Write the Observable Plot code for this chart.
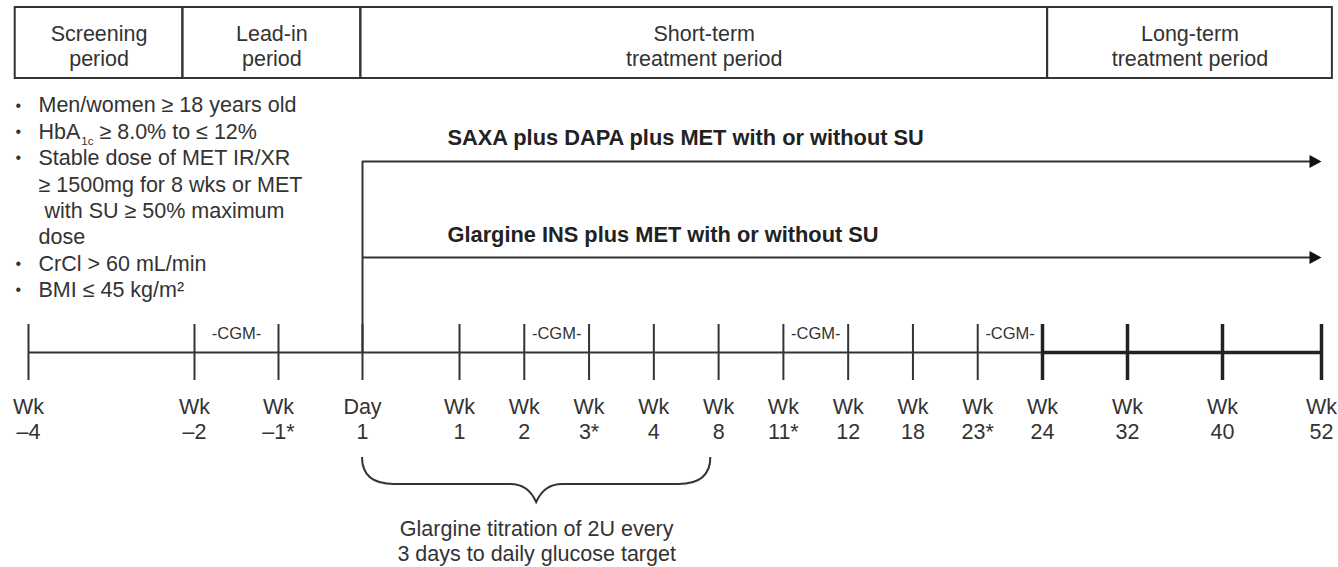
<!DOCTYPE html>
<html>
<head>
<meta charset="utf-8">
<script src="https://cdn.jsdelivr.net/npm/d3@7"></script>
<script src="https://cdn.jsdelivr.net/npm/@observablehq/plot@0.6"></script>
<style>
  html, body { margin: 0; padding: 0; background: #fff; }
  #chart svg { display: block; }
</style>
</head>
<body>
<div id="chart"></div>
<script>
// ---------- data ----------
const timepointTop = ["Wk","Wk","Wk","Day","Wk","Wk","Wk","Wk","Wk","Wk","Wk","Wk","Wk","Wk","Wk","Wk","Wk"];
const timepointNum = ["–4","–2","–1*","1","1","2","3*","4","8","11*","12","18","23*","24","32","40","52"];
const longTermFrom = 13;          // index of Wk 24: thick segment starts here
const treatmentStart = 3;         // index of Day 1
const periodNames = ["Screening\nperiod", "Lead-in\nperiod", "Short-term\ntreatment period", "Long-term\ntreatment period"];
const periodBounds = [-0.08, 0.93, 2.98, 13.06, 16.11];   // in timepoint-index units
const cgmWindows = [["–2","–1*"], ["2","3*"], ["11*","12"], ["23*","24"]];
const arms = ["SAXA plus DAPA plus MET with or without SU", "Glargine INS plus MET with or without SU"];
const criteriaLines = ["Men/women ≥ 18 years old", "HbA1c ≥ 8.0% to ≤ 12%", "Stable dose of MET IR/XR",
  "≥ 1500mg for 8 wks or MET", "\u00a0with SU ≥ 50% maximum", "dose", "CrCl > 60 mL/min", "BMI ≤ 45 kg/m²"];
const criteriaBullet = [true, true, true, false, false, false, true, true];
const braceSpan = [3, 7.88];      // Day 1 to just before Wk 8
const titrationNote = "Glargine titration of 2U every\n3 days to daily glucose target";

// ---------- scale / layout options ----------
const xDomain = [0, 1, 2, 3, 4, 13, 14, 15, 16];
const xRange = [28, 194, 278, 362, 459, 1042, 1127, 1222, 1321];
const xs = d3.scaleLinear(xDomain, xRange);
const mid = (a, b) => xs.invert((xs(a) + xs(b)) / 2);
const W = 1338, H = 567;
const Y = {boxTop: 7, boxBottom: 78, boxText: 44.5, arm: [161, 257], armLabel: [138, 235],
  timeline: 352, tickTop: 324, tickBottom: 380, cgm: 333, wk: 407, num: 432,
  braceTop: 457, braceMid: 484, braceTip: 502, note: 539.5, crit0: 105, critStep: 26.4};
const ink = "#333";
const font = "'Liberation Sans', Arial, Helvetica, sans-serif";
const fs = 21.5;

// ---------- derived tables ----------
const timepoints = timepointNum.map((n, i) => ({i, top: timepointTop[i], num: n}));
const idx = n => timepointNum.indexOf(n);
const periods = periodNames.map((name, i) => ({name, x1: periodBounds[i], x2: periodBounds[i + 1], xm: mid(periodBounds[i], periodBounds[i + 1])}));
const cgm = cgmWindows.map(([a, b]) => ({x: (idx(a) + idx(b)) / 2}));
const armRows = arms.map((label, i) => ({label, y: Y.arm[i], ly: Y.armLabel[i]}));
const criteria = criteriaLines.map((t, i) => ({t, bullet: criteriaBullet[i], y: Y.crit0 + i * Y.critStep}));

const arrowHead = {
  draw(context, size) {
    const r = Math.sqrt(size / Math.PI);
    context.moveTo(0, 0);
    context.lineTo(-2.4 * r, -1.3 * r);
    context.lineTo(-2.4 * r, 1.3 * r);
    context.closePath();
  }
};

function brace(index, scales) {
  const L = scales.x(braceSpan[0]), R = scales.x(braceSpan[1]);
  const M = (L + R) / 2;
  const yT = scales.y(Y.braceTop), yM = scales.y(Y.braceMid), yB = scales.y(Y.braceTip);
  const d = `M${L},${yT} Q${L},${yM} ${L + 32},${yM} L${M - 26},${yM} Q${M - 8},${yM} ${M},${yB}` +
            ` Q${M + 8},${yM} ${M + 26},${yM} L${R - 32},${yM} Q${R},${yM} ${R},${yT}`;
  return d3.create("svg:path").attr("d", d).attr("fill", "none").attr("stroke", ink).attr("stroke-width", 2).node();
}

const svg = Plot.plot({
  width: W, height: H,
  marginTop: 0, marginRight: 0, marginBottom: 0, marginLeft: 0,
  style: {fontFamily: font, background: "#fff", color: ink},
  x: {type: "linear", domain: xDomain, range: xRange, axis: null},
  y: {type: "linear", domain: [0, H], range: [0, H], axis: null},
  marks: [
    // period header boxes
    Plot.rect(periods, {x1: "x1", x2: "x2", y1: Y.boxTop, y2: Y.boxBottom, fill: "none", stroke: ink, strokeWidth: 2}),
    Plot.text(periods, {x: "xm", y: Y.boxText, text: "name", fontSize: fs, fill: ink, lineHeight: 25 / fs, lineAnchor: "middle"}),
    // inclusion criteria
    Plot.text(criteria.filter(d => d.bullet), {frameAnchor: "left", dx: 15, y: "y", text: () => "•", fontSize: 16, fill: ink}),
    Plot.text(criteria, {frameAnchor: "left", dx: 38, y: "y", text: "t", textAnchor: "start", fontSize: fs, fill: ink}),
    // treatment arms
    Plot.ruleY(armRows, {y: "y", x1: treatmentStart, x2: 15.9, stroke: ink, strokeWidth: 2}),
    Plot.dot(armRows, {x: 16, y: "y", r: 5, symbol: arrowHead, fill: "#111", stroke: "none"}),
    Plot.text(armRows, {x: treatmentStart, dx: 85, y: "ly", text: "label", textAnchor: "start", fontSize: 21.8, fontWeight: "bold", fill: "#222"}),
    Plot.ruleX([treatmentStart], {x: d => d, y1: Y.arm[0], y2: Y.timeline, stroke: ink, strokeWidth: 2}),
    // timeline
    Plot.ruleY([Y.timeline], {x1: 0, x2: longTermFrom, stroke: ink, strokeWidth: 2}),
    Plot.ruleY([Y.timeline], {x1: longTermFrom, x2: timepoints.length - 1, stroke: "#222", strokeWidth: 3.5}),
    Plot.ruleX(timepoints.filter(d => d.i < longTermFrom), {x: "i", y1: Y.tickTop, y2: Y.tickBottom, stroke: ink, strokeWidth: 2}),
    Plot.ruleX(timepoints.filter(d => d.i >= longTermFrom), {x: "i", y1: Y.tickTop, y2: Y.tickBottom, stroke: "#222", strokeWidth: 3.5}),
    Plot.text(cgm, {x: "x", y: Y.cgm, text: () => "-CGM-", fontSize: 16.5, fill: ink}),
    Plot.text(timepoints, {x: "i", y: Y.wk, text: "top", fontSize: fs, fill: ink}),
    Plot.text(timepoints, {x: "i", y: Y.num, text: "num", fontSize: fs, fill: ink}),
    // titration brace + note
    brace,
    Plot.text([titrationNote], {x: mid(braceSpan[0], braceSpan[1]), y: Y.note, text: d => d, fontSize: fs, fill: ink, lineHeight: 25 / fs, lineAnchor: "middle"})
  ]
});

// HbA1c subscript
d3.select(svg).selectAll("text").filter(function () { return this.textContent === criteriaLines[1]; })
  .each(function () {
    const rest = criteriaLines[1].replace(/^HbA1c/, "");
    const t = d3.select(this);
    t.text(null);
    t.append("tspan").text("HbA");
    t.append("tspan").attr("font-size", 11.5).attr("dy", 6.5).attr("dx", 1).text("1c");
    t.append("tspan").attr("dy", -6.5).text(rest);
  });

document.getElementById("chart").appendChild(svg);
</script>
</body>
</html>
